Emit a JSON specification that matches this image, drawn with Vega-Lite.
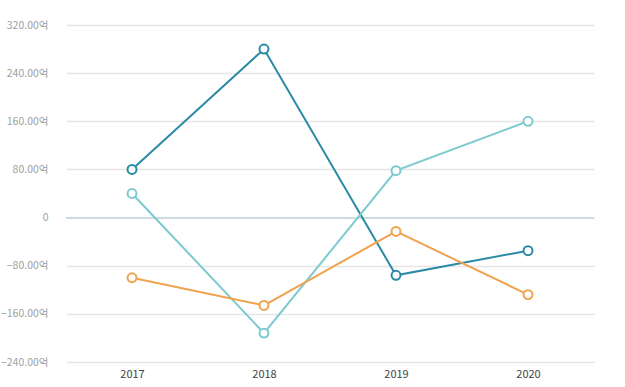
{
  "$schema": "https://vega.github.io/schema/vega-lite/v6.json",
  "width": 528,
  "height": 337,
  "autosize": "none",
  "padding": {"left": 66, "top": 25, "right": 31, "bottom": 25},
  "background": "white",
  "config": {"view": {"stroke": null}, "font": "Noto Sans CJK KR"},
  "data": {"values": [
    {"year": "2017", "series": "A", "value": 80},
    {"year": "2018", "series": "A", "value": 280},
    {"year": "2019", "series": "A", "value": -96},
    {"year": "2020", "series": "A", "value": -55},
    {"year": "2017", "series": "B", "value": 40},
    {"year": "2018", "series": "B", "value": -192},
    {"year": "2019", "series": "B", "value": 78},
    {"year": "2020", "series": "B", "value": 160},
    {"year": "2017", "series": "C", "value": -100},
    {"year": "2018", "series": "C", "value": -146},
    {"year": "2019", "series": "C", "value": -23},
    {"year": "2020", "series": "C", "value": -128}
  ]},
  "layer": [
    {
      "mark": {"type": "line", "strokeWidth": 2, "strokeOpacity": 0},
      "encoding": {
        "x": {
          "field": "year", "type": "ordinal",
          "scale": {"type": "point", "padding": 0.5},
          "axis": {"title": null, "labelAngle": 0, "ticks": false, "domain": false, "labelColor": "#444444", "labelFontSize": 11, "labelPadding": 6, "grid": false}
        },
        "y": {
          "field": "value", "type": "quantitative",
          "scale": {"domain": [-240, 320], "nice": false, "zero": false},
          "axis": {
            "title": null, "values": [-240, -160, -80, 0, 80, 160, 240, 320],
            "labelExpr": "datum.value == 0 ? '0' : format(datum.value, '.2f') + '억'",
            "ticks": false, "domain": false, "grid": true, "gridColor": "#e6e6e6", "gridWidth": 1.5,
            "labelColor": "#a0a0a0", "labelFontSize": 10.5, "labelPadding": 18
          }
        },
        "color": {
          "field": "series", "type": "nominal", "legend": null,
          "scale": {"domain": ["A", "B", "C"], "range": ["#2a8aa6", "#7ccad0", "#f0a24c"]}
        }
      }
    },
    {
      "mark": {"type": "rule", "color": "#c5d9e0", "strokeWidth": 1},
      "encoding": {"y": {"datum": 0, "type": "quantitative"}}
    },
    {
      "mark": {"type": "line", "strokeWidth": 2},
      "encoding": {
        "x": {"field": "year", "type": "ordinal"},
        "y": {"field": "value", "type": "quantitative"},
        "color": {"field": "series", "type": "nominal"}
      }
    },
    {
      "mark": {"type": "point", "filled": false, "fill": "white", "fillOpacity": 1, "strokeWidth": 2, "size": 80, "opacity": 1},
      "encoding": {
        "x": {"field": "year", "type": "ordinal"},
        "y": {"field": "value", "type": "quantitative"},
        "color": {"field": "series", "type": "nominal"}
      }
    }
  ]
}
